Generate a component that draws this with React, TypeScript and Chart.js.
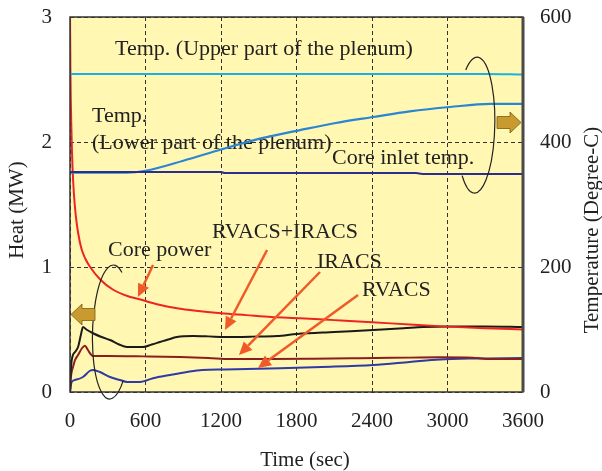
import React, { useEffect, useRef } from "react";
import { Chart, registerables } from "chart.js";

Chart.register(...registerables);

// ---- Data (time in sec) ----
const corePowerTime = [0, 3, 6, 10, 15, 20, 30, 45, 65, 90, 120, 160, 240, 340, 450, 560, 700, 850, 1000, 1200, 1400, 1600, 1830, 2100, 2400, 2700, 3000, 3300, 3600];
const corePowerMW = [3.05, 2.6, 2.35, 2.15, 1.95, 1.8, 1.6, 1.42, 1.27, 1.15, 1.07, 1.0, 0.9, 0.82, 0.77, 0.74, 0.7, 0.67, 0.65, 0.63, 0.615, 0.6, 0.59, 0.575, 0.558, 0.54, 0.523, 0.51, 0.5];

const rvacsIracsTime = [0, 5, 13, 25, 40, 64, 85, 103, 130, 183, 250, 318, 390, 453, 580, 650, 715, 780, 850, 978, 1100, 1232, 1450, 1645, 1804, 2100, 2410, 2650, 2806, 3000, 3300, 3600];
const rvacsIracsMW = [0, 0.15, 0.25, 0.3, 0.32, 0.36, 0.45, 0.52, 0.5, 0.47, 0.44, 0.416, 0.38, 0.36, 0.36, 0.38, 0.4, 0.42, 0.44, 0.448, 0.445, 0.44, 0.443, 0.448, 0.464, 0.48, 0.496, 0.51, 0.52, 0.525, 0.525, 0.52];

const iracsTime = [0, 5, 13, 24, 40, 64, 95, 119, 140, 159, 183, 300, 580, 874, 1100, 1272, 1600, 1932, 2300, 2700, 2940, 3200, 3315, 3600];
const iracsMW = [0, 0.1, 0.16, 0.2, 0.256, 0.296, 0.35, 0.37, 0.34, 0.31, 0.288, 0.288, 0.285, 0.28, 0.272, 0.264, 0.264, 0.266, 0.27, 0.275, 0.278, 0.275, 0.264, 0.264];

const rvacsTime = [0, 13, 52, 103, 159, 183, 238, 318, 397, 453, 556, 660, 795, 930, 1050, 1232, 1670, 2000, 2410, 2700, 2940, 3200, 3600];
const rvacsMW = [0, 0.08, 0.1, 0.12, 0.17, 0.176, 0.16, 0.12, 0.096, 0.08, 0.08, 0.11, 0.136, 0.16, 0.176, 0.18, 0.19, 0.2, 0.216, 0.24, 0.26, 0.268, 0.272];

const upperPlenumTime = [0, 3300, 3600];
const upperPlenumC = [509, 509, 508];

const lowerPlenumTime = [0, 200, 450, 600, 900, 1200, 1500, 1828, 2100, 2410, 2700, 3020, 3340, 3600];
const lowerPlenumC = [351, 351, 351, 354, 370, 388, 405, 419, 430, 440, 449, 456, 461, 461];

const coreInletTime = [0, 1200, 1230, 2750, 2800, 3600];
const coreInletC = [352, 352, 350.5, 350.5, 349, 349];

const timeTicks = [0, 600, 1200, 1800, 2400, 3000, 3600];
const heatTicks = [0, 1, 2, 3];
const tempTicks = [0, 200, 400, 600];

const FONT = "'Liberation Serif', 'Times New Roman', serif";

const pts = (t: number[], v: number[]) => t.map((x, i) => ({ x, y: v[i] }));

// annotation labels in data coordinates (sec, MW)
const labels = [
  { text: "Temp. (Upper part of the plenum)", t: 358, v: 2.744 },
  { text: "Temp.", t: 175, v: 2.21 },
  { text: "(Lower part of the plenum)", t: 175, v: 1.99 },
  { text: "Core inlet temp.", t: 2082, v: 1.87 },
  { text: "RVACS+IRACS", t: 1128, v: 1.28 },
  { text: "Core power", t: 302, v: 1.136 },
  { text: "IRACS", t: 1963, v: 1.04 },
  { text: "RVACS", t: 2320, v: 0.816 },
];

// pointer arrows: tail -> tip, in (sec, MW)
const pointers = [
  { t0: 660, v0: 1.016, t1: 540, v1: 0.76 },
  { t0: 1566, v0: 1.136, t1: 1232, v1: 0.496 },
  { t0: 1987, v0: 0.96, t1: 1343, v1: 0.296 },
  { t0: 2289, v0: 0.776, t1: 1494, v1: 0.192 },
];

const decorPlugin = {
  id: "decor",
  beforeDraw(chart: any) {
    const { ctx, chartArea: a } = chart;
    ctx.save();
    ctx.fillStyle = "#FFF7B2";
    ctx.fillRect(a.left, a.top, a.right - a.left, a.bottom - a.top);
    ctx.restore();
  },
  beforeDatasetsDraw(chart: any) {
    const { ctx } = chart;
    const xs = chart.scales.x;
    const ys = chart.scales.y;
    ctx.save();
    ctx.fillStyle = "#222";
    ctx.font = `22px ${FONT}`;
    ctx.textAlign = "left";
    ctx.textBaseline = "middle";
    labels.forEach((l) => {
      ctx.fillText(l.text, xs.getPixelForValue(l.t), ys.getPixelForValue(l.v));
    });
    ctx.restore();
  },
  afterDatasetsDraw(chart: any) {
    const { ctx, chartArea: a } = chart;
    const xs = chart.scales.x;
    const ys = chart.scales.y;
    ctx.save();
    // frame
    ctx.strokeStyle = "#333";
    ctx.lineWidth = 1.5;
    ctx.strokeRect(a.left, a.top, a.right - a.left, a.bottom - a.top);
    ctx.strokeStyle = "#4a4a4a";
    ctx.lineWidth = 3;
    ctx.beginPath();
    ctx.moveTo(a.right, a.top);
    ctx.lineTo(a.right, a.bottom);
    ctx.stroke();

    // pointer arrows
    ctx.strokeStyle = "#F05A28";
    ctx.fillStyle = "#F05A28";
    ctx.lineWidth = 2.5;
    pointers.forEach((p) => {
      const x0 = xs.getPixelForValue(p.t0), y0 = ys.getPixelForValue(p.v0);
      const x1 = xs.getPixelForValue(p.t1), y1 = ys.getPixelForValue(p.v1);
      const ang = Math.atan2(y1 - y0, x1 - x0);
      const hl = 13, hw = 6;
      const bx = x1 - hl * Math.cos(ang), by = y1 - hl * Math.sin(ang);
      ctx.beginPath();
      ctx.moveTo(x0, y0);
      ctx.lineTo(bx, by);
      ctx.stroke();
      ctx.beginPath();
      ctx.moveTo(x1, y1);
      ctx.lineTo(bx + hw * Math.sin(ang), by - hw * Math.cos(ang));
      ctx.lineTo(bx - hw * Math.sin(ang), by + hw * Math.cos(ang));
      ctx.closePath();
      ctx.fill();
    });

    // ellipses (open arcs)
    ctx.strokeStyle = "#222";
    ctx.lineWidth = 1.2;
    const e1x = xs.getPixelForValue(330), e1y = ys.getPixelForValue(0.48);
    ctx.beginPath();
    ctx.ellipse(e1x, e1y, 19, 67, 0.03, -1.1, 0.8 - 2 * Math.PI, true);
    ctx.stroke();
    const e2x = xs.getPixelForValue(3225), e2y = ys.getPixelForValue(2.135);
    ctx.beginPath();
    ctx.ellipse(e2x, e2y, 19, 68, 0.02, -2.2, 2.3, false);
    ctx.stroke();

    // gold block arrows
    const drawBlock = (tipX: number, tipY: number, dir: number) => {
      const headL = 11, headH = 10.5, bodyL = 13, bodyH = 6;
      ctx.beginPath();
      ctx.moveTo(tipX, tipY);
      ctx.lineTo(tipX - dir * headL, tipY - headH);
      ctx.lineTo(tipX - dir * headL, tipY - bodyH);
      ctx.lineTo(tipX - dir * (headL + bodyL), tipY - bodyH);
      ctx.lineTo(tipX - dir * (headL + bodyL), tipY + bodyH);
      ctx.lineTo(tipX - dir * headL, tipY + bodyH);
      ctx.lineTo(tipX - dir * headL, tipY + headH);
      ctx.closePath();
      ctx.fillStyle = "#C99A2E";
      ctx.fill();
      ctx.strokeStyle = "#7a5c14";
      ctx.lineWidth = 0.8;
      ctx.stroke();
    };
    drawBlock(xs.getPixelForValue(0) + 1, ys.getPixelForValue(0.62), -1);
    drawBlock(xs.getPixelForValue(3600) - 2, ys.getPixelForValue(2.156), 1);

    // axis titles
    ctx.fillStyle = "#222";
    ctx.font = `21px ${FONT}`;
    ctx.textAlign = "center";
    ctx.textBaseline = "middle";
    ctx.fillText("Time (sec)", 305, 460);
    ctx.save();
    ctx.translate(17, 210);
    ctx.rotate(-Math.PI / 2);
    ctx.fillText("Heat (MW)", 0, 0);
    ctx.restore();
    ctx.save();
    ctx.translate(592, 230);
    ctx.rotate(-Math.PI / 2);
    ctx.fillText("Temperature (Degree-C)", 0, 0);
    ctx.restore();
    ctx.restore();
  },
};

export default function App() {
  const ref = useRef<HTMLCanvasElement | null>(null);

  useEffect(() => {
    document.body.style.margin = "0";
    const canvas = ref.current;
    if (!canvas) return;
    const tickFont = { family: FONT, size: 21 };
    const plain = (v: any) => String(v);
    const line = (label: string, data: any[], color: string, axis: string, width = 2) => ({
      label,
      data,
      borderColor: color,
      backgroundColor: color,
      borderWidth: width,
      pointRadius: 0,
      yAxisID: axis,
      cubicInterpolationMode: "monotone" as const,
      fill: false,
    });
    const chart = new Chart(canvas, {
      type: "line",
      data: {
        datasets: [
          line("Core inlet temp.", pts(coreInletTime, coreInletC), "#2B2E8C", "y2", 2),
          line("Upper plenum temp.", pts(upperPlenumTime, upperPlenumC), "#1AB2E6", "y2", 2),
          line("Lower plenum temp.", pts(lowerPlenumTime, lowerPlenumC), "#2A86D4", "y2", 2.2),
          line("Core power", pts(corePowerTime, corePowerMW), "#EE2424", "y", 2),
          line("RVACS+IRACS", pts(rvacsIracsTime, rvacsIracsMW), "#1A1A1A", "y", 2),
          line("IRACS", pts(iracsTime, iracsMW), "#8B1E1E", "y", 2),
          line("RVACS", pts(rvacsTime, rvacsMW), "#2E3AA6", "y", 2),
        ],
      },
      options: {
        animation: false,
        responsive: false,
        devicePixelRatio: 1,
        layout: { padding: { top: 17, left: 0, right: 0, bottom: 0 } },
        plugins: { legend: { display: false }, tooltip: { enabled: false } },
        scales: {
          x: {
            type: "linear",
            min: 0,
            max: 3600,
            afterBuildTicks: (s: any) => { s.ticks = timeTicks.map((v) => ({ value: v })); },
            afterFit: (s: any) => { s.height = 79; s.paddingLeft = 0; s.paddingRight = 0; },
            ticks: { font: tickFont, color: "#222", padding: 17, maxRotation: 0, autoSkip: false, callback: plain },
            grid: { color: "#333", lineWidth: 1, drawTicks: false },
            border: { display: false, dash: [4, 3] },
          },
          y: {
            position: "left",
            min: 0,
            max: 3,
            afterBuildTicks: (s: any) => { s.ticks = heatTicks.map((v) => ({ value: v })); },
            afterFit: (s: any) => { s.width = 70; s.paddingTop = 0; s.paddingBottom = 0; },
            ticks: { font: tickFont, color: "#222", padding: 18, callback: plain },
            grid: { color: "#333", lineWidth: 1, drawTicks: false },
            border: { display: false, dash: [4, 3] },
          },
          y2: {
            position: "right",
            min: 0,
            max: 600,
            afterBuildTicks: (s: any) => { s.ticks = tempTicks.map((v) => ({ value: v })); },
            afterFit: (s: any) => { s.width = 79; s.paddingTop = 0; s.paddingBottom = 0; },
            ticks: { font: tickFont, color: "#222", padding: 17, callback: plain },
            grid: { display: false, drawTicks: false },
            border: { display: false },
          },
        },
      },
      plugins: [decorPlugin],
    } as any);
    return () => chart.destroy();
  }, []);

  return <canvas ref={ref} width={602} height={471} style={{ display: "block" }} />;
}
